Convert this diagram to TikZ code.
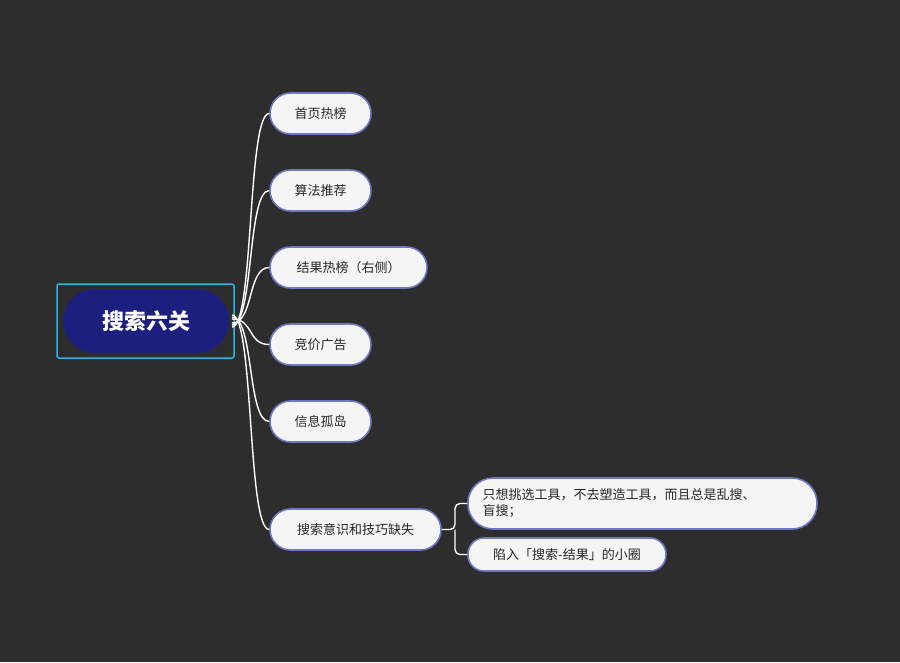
\documentclass[tikz,border=0pt]{standalone}
\usepackage{fontspec}
\setmainfont{Noto Sans CJK SC}
\begin{document}
\begin{tikzpicture}[x=1pt,y=-1pt,
  kid/.style={draw=kidborder,line width=1.6pt,fill=kidfill,rounded corners=20.5pt,minimum height=41pt,inner xsep=0pt,font=\fontsize{13}{16}\selectfont,text=black!85},
  link/.style={draw=white,line width=1.4pt}]
\definecolor{bg}{HTML}{2D2D2D}
\definecolor{kidborder}{HTML}{6F78C4}
\definecolor{kidfill}{HTML}{F5F5F5}
\definecolor{rootfill}{HTML}{1C1F7E}
\definecolor{sel}{HTML}{2AB5E8}
\fill[bg] (0,0) rectangle (900,662);
\useasboundingbox (0,0) rectangle (900,662);
\draw[sel,line width=1.5pt,rounded corners=2pt] (57,284) rectangle (234,358);
\node[fill=rootfill,rounded corners=32pt,minimum width=166pt,minimum height=64pt,text=white,font=\fontsize{22}{26}\selectfont\bfseries] (root) at (146,321) {搜索六关};
\node[kid,minimum width=101pt] (c1) at (320.5,113.5) {首页热榜};
\node[kid,minimum width=101pt] (c2) at (320.5,190.5) {算法推荐};
\node[kid,minimum width=157pt] (c3) at (348.5,267.5) {结果热榜（右侧）};
\node[kid,minimum width=101pt] (c4) at (320.5,344.5) {竞价广告};
\node[kid,minimum width=101pt] (c5) at (320.5,421.5) {信息孤岛};
\node[kid,minimum width=171pt] (c6) at (355.5,529.5) {搜索意识和技巧缺失};
\node[kid,minimum width=349pt,minimum height=51pt,rounded corners=25pt,align=left,text width=320pt] (g1) at (642.5,503.5) {只想挑选工具，不去塑造工具，而且总是乱搜、\\盲搜；};
\node[kid,minimum width=198pt,minimum height=33pt,rounded corners=16pt] (g2) at (567,554.5) {陷入「搜索-结果」的小圈};
\coordinate (r) at (232,321);
\foreach \c/\o in {c1/-6,c2/-4,c3/-2,c4/2,c5/4,c6/6}
  \draw[link] ([yshift=\o]r) .. controls ([xshift=22,yshift=\o]r) and ([xshift=-22]\c.west) .. (\c.west);
\draw[link,rounded corners=5pt] (c6.east) -- (455,529.5) |- (g1.west);
\draw[link,rounded corners=5pt] (455,529.5) |- (g2.west);
\end{tikzpicture}
\end{document}
